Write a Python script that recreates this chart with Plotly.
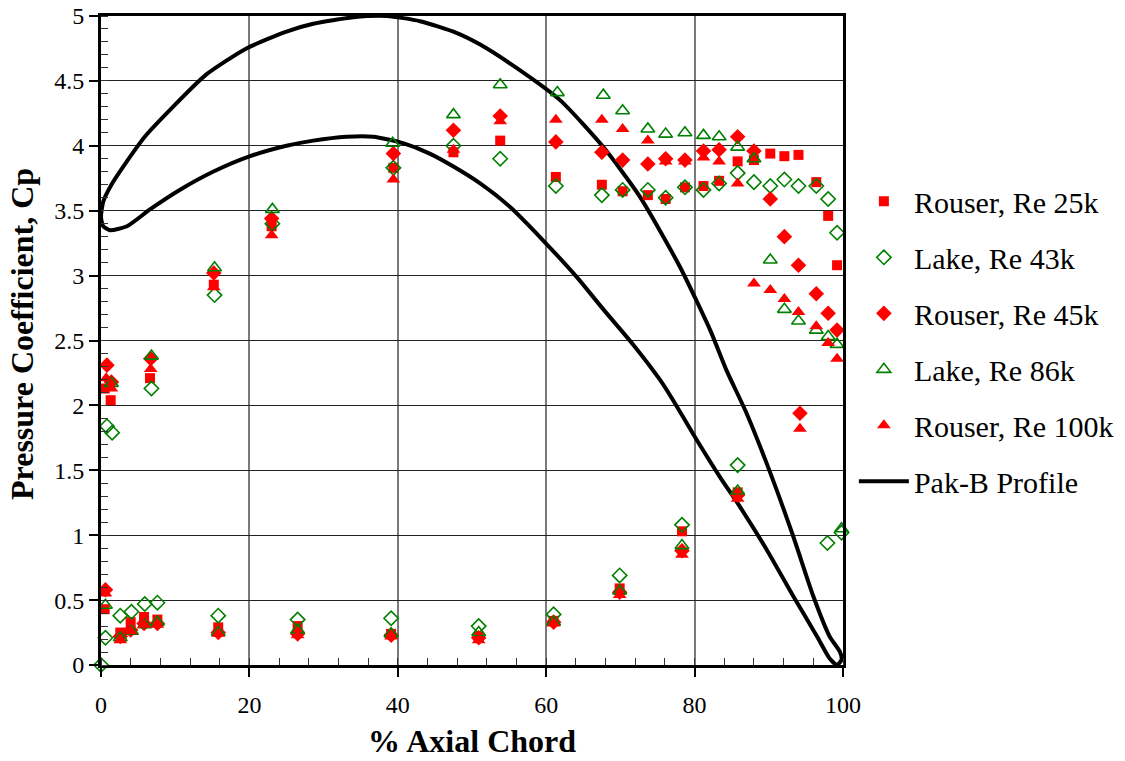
import plotly.graph_objects as go

# ---------------- data ----------------
r25_x = [0.5, 1.3, 6.6, 15.2, 23.0, 39.4, 47.5, 53.8, 61.3, 67.5, 70.3, 73.7, 76.1, 78.7, 81.2, 83.3, 85.8, 88.0, 90.2, 92.1, 94.0, 96.4, 98.0, 99.2,
         0.5, 2.6, 4.0, 5.8, 7.6, 15.8, 26.5, 39.1, 50.9, 61.0, 69.9, 78.3, 85.8]
r25_y = [2.13, 2.04, 2.21, 2.93, 3.38, 3.83, 3.95, 4.04, 3.76, 3.70, 3.65, 3.62, 3.59, 3.68, 3.69, 3.73, 3.88, 3.89, 3.94, 3.92, 3.93, 3.72, 3.46, 3.08,
         0.43, 0.25, 0.33, 0.37, 0.35, 0.29, 0.30, 0.24, 0.22, 0.34, 0.59, 1.03, 1.33]

l43_x = [0.8, 1.5, 6.8, 15.3, 23.1, 39.4, 47.5, 53.8, 61.3, 67.5, 70.3, 73.7, 76.1, 78.7, 81.2, 83.3, 85.8, 88.0, 90.2, 92.1, 94.0, 96.4, 98.0, 99.2,
         0.0, 0.6, 2.6, 4.1, 5.9, 7.6, 15.8, 26.5, 39.1, 50.9, 61.0, 69.9, 78.3, 85.8, 97.9, 99.8]
l43_y = [1.84, 1.79, 2.13, 2.85, 3.40, 3.83, 4.00, 3.90, 3.69, 3.62, 3.66, 3.66, 3.60, 3.68, 3.66, 3.71, 3.79, 3.72, 3.69, 3.74, 3.69, 3.69, 3.59, 3.33,
         0.0, 0.21, 0.38, 0.41, 0.47, 0.48, 0.38, 0.35, 0.36, 0.30, 0.39, 0.69, 1.08, 1.54, 0.94, 1.02]

r45_x = [0.8, 1.4, 6.7, 15.2, 23.0, 39.4, 47.5, 53.8, 61.3, 67.5, 70.3, 73.7, 76.1, 78.7, 81.2, 83.3, 85.8, 88.0, 90.2, 92.1, 94.0, 96.4, 98.0, 99.2, 94.2,
         0.6, 2.6, 4.0, 5.8, 7.6, 15.8, 26.5, 39.1, 50.9, 61.0, 69.9, 78.3, 85.8]
r45_y = [2.31, 2.18, 2.36, 3.02, 3.44, 3.94, 4.12, 4.23, 4.03, 3.95, 3.89, 3.86, 3.90, 3.89, 3.96, 3.97, 4.07, 3.96, 3.59, 3.30, 3.08, 2.86, 2.71, 2.58, 1.94,
         0.58, 0.22, 0.27, 0.32, 0.32, 0.25, 0.24, 0.23, 0.21, 0.33, 0.56, 0.88, 1.31]

l86_x = [1.4, 6.8, 15.3, 23.1, 39.3, 47.5, 53.8, 61.5, 67.7, 70.3, 73.7, 76.1, 78.7, 81.2, 83.3, 85.8, 88.0, 90.2, 92.1, 94.0, 96.4, 98.0, 99.2,
         0.6, 2.6, 4.1, 5.9, 7.6, 15.8, 26.5, 39.1, 50.9, 61.0, 69.9, 78.3, 85.8, 99.8]
l86_y = [2.17, 2.38, 3.06, 3.51, 4.02, 4.24, 4.47, 4.41, 4.39, 4.27, 4.13, 4.09, 4.10, 4.08, 4.07, 3.99, 3.90, 3.12, 2.74, 2.65, 2.58, 2.53, 2.47,
         0.46, 0.21, 0.26, 0.31, 0.33, 0.25, 0.27, 0.24, 0.25, 0.33, 0.57, 0.92, 1.34, 1.05]

r100_x = [0.7, 1.4, 6.7, 15.2, 23.0, 39.4, 47.5, 53.8, 61.3, 67.5, 70.3, 73.7, 76.1, 78.7, 81.2, 83.3, 85.8, 88.0, 90.2, 92.1, 94.0, 96.4, 98.0, 99.2, 94.2,
          0.6, 2.6, 4.0, 5.8, 7.6, 15.8, 26.5, 39.1, 50.9, 61.0, 69.9, 78.3, 85.8]
r100_y = [2.21, 2.13, 2.28, 2.91, 3.31, 3.74, 3.97, 4.19, 4.20, 4.20, 4.13, 4.04, 3.88, 3.88, 3.91, 3.88, 3.71, 2.94, 2.89, 2.82, 2.72, 2.61, 2.48, 2.36, 1.82,
          0.55, 0.19, 0.26, 0.31, 0.31, 0.24, 0.23, 0.22, 0.19, 0.32, 0.54, 0.85, 1.28]

# Pak-B profile outline (suction side LE->TE, then pressure side TE->LE)
prof_upper_x = [0, 0.3, 1.4, 3, 5.9, 9.7, 14.2, 19.6, 25, 28.6, 34, 38.5, 43, 47.9, 51.1, 56, 61.9, 67.7, 72.6, 78, 82.1, 84.3, 87, 90.2, 93.3, 96, 98.2, 99.6, 99.8]
prof_upper_y = [3.45, 3.57, 3.70, 3.84, 4.07, 4.30, 4.55, 4.75, 4.88, 4.94, 4.99, 5.0, 4.96, 4.87, 4.78, 4.60, 4.35, 3.99, 3.61, 3.07, 2.58, 2.27, 1.94, 1.48, 0.99, 0.53, 0.22, 0.10, 0.04]
prof_lower_x = [99.2, 98.2, 96.5, 93.3, 89.7, 86.1, 83.4, 79.8, 77.1, 75.3, 71.7, 67.7, 64.1, 59.6, 55.1, 51.1, 47.5, 44.3, 40.7, 36.7, 33.1, 28.6, 25, 20.1, 15.1, 10.6, 6.6, 3.5, 1.2, 0.3, 0]
prof_lower_y = [0.0, 0.05, 0.22, 0.53, 0.89, 1.22, 1.45, 1.78, 2.04, 2.20, 2.47, 2.74, 2.99, 3.27, 3.53, 3.71, 3.84, 3.94, 4.02, 4.07, 4.07, 4.04, 4.0, 3.92, 3.80, 3.66, 3.51, 3.38, 3.35, 3.38, 3.45]

series_names = ["Rouser, Re 25k", "Lake, Re 43k", "Rouser, Re 45k", "Lake, Re 86k", "Rouser, Re 100k"]
profile_name = "Pak-B Profile"

RED = "#FF0000"
GREEN = "#008000"
FONT = "Liberation Serif, Times New Roman, serif"

fig = go.Figure()

fig.add_trace(go.Scatter(
    x=prof_upper_x + prof_lower_x, y=prof_upper_y + prof_lower_y,
    mode="lines", name=profile_name, line=dict(color="black", width=4, shape="spline", smoothing=0.6),
    legendgroup="g6", legendrank=1006, cliponaxis=False))

styles = [
    (r25_x, r25_y, dict(symbol="square", size=10, color=RED, line=dict(width=0))),
    (l43_x, l43_y, dict(symbol="diamond-open", size=11, color=GREEN, line=dict(width=1.6, color=GREEN))),
    (r45_x, r45_y, dict(symbol="diamond", size=12, color=RED, line=dict(width=0))),
    (l86_x, l86_y, dict(symbol="triangle-up-open", size=12, color=GREEN, line=dict(width=1.6, color=GREEN))),
    (r100_x, r100_y, dict(symbol="triangle-up", size=12, color=RED, line=dict(width=0))),
]
for i, (xs, ys, mk) in enumerate(styles):
    fig.add_trace(go.Scatter(x=xs, y=ys, mode="markers", name=series_names[i], marker=mk,
                             legendgroup=f"g{i+1}", legendrank=1001 + i, cliponaxis=False))

axis_common = dict(
    showline=True, linecolor="black", linewidth=3, mirror=True,
    ticks="outside", ticklen=9, tickwidth=1.5, tickcolor="black",
    tickfont=dict(family=FONT, size=24, color="black"),
    zeroline=False, automargin=False,
)

fig.update_xaxes(range=[0, 100], dtick=20, tick0=0, showgrid=True, gridcolor="#7a7a7a", gridwidth=1.5,
                 ticklabelstandoff=7,
                 minor=dict(dtick=4, ticks="inside", ticklen=7, tickwidth=1.3, tickcolor="#333", showgrid=False),
                 **axis_common)
fig.update_yaxes(range=[0, 5], dtick=0.5, tick0=0, showgrid=True, gridcolor="#222", gridwidth=1,
                 minor=dict(dtick=0.1, ticks="inside", ticklen=7, tickwidth=1.3, tickcolor="#333", showgrid=False),
                 **axis_common)

fig.update_layout(
    width=1125, height=761,
    margin=dict(l=101, r=282, t=16, b=96, autoexpand=False),
    paper_bgcolor="white", plot_bgcolor="white",
    font=dict(family=FONT, color="black"),
    showlegend=True,
    legend=dict(xref="container", yref="container", x=0.759, y=0.7696, xanchor="left", yanchor="top",
                font=dict(family=FONT, size=30, color="black"), traceorder="grouped", tracegroupgap=14,
                bgcolor="rgba(0,0,0,0)", itemwidth=50),
    annotations=[
        dict(text="<b>% Axial Chord</b>", xref="paper", yref="paper", x=0.5, y=-0.117,
             xanchor="center", yanchor="middle", showarrow=False,
             font=dict(family=FONT, size=32, color="black")),
        dict(text="<b>Pressure Coefficient, Cp</b>", xref="paper", yref="paper", x=-0.1065, y=0.51,
             xanchor="center", yanchor="middle", showarrow=False, textangle=-90,
             font=dict(family=FONT, size=32, color="black")),
    ],
)

fig.write_html("out.html", config={"displayModeBar": False},
               post_script="document.body.style.margin='0';")
